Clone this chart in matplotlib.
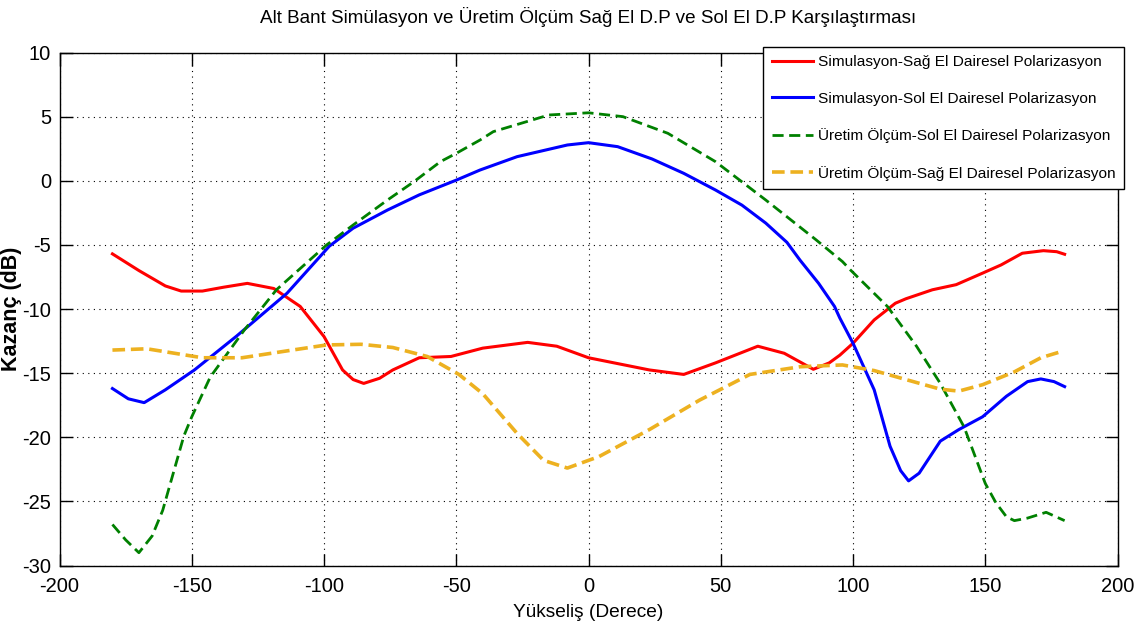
import matplotlib.pyplot as plt

plt.rcParams['font.family'] = ['Liberation Sans', 'DejaVu Sans']
plt.rcParams['axes.unicode_minus'] = False

# Simulasyon - Sag El D.P (red)
sim_sag_x = [-180, -170, -160, -154, -146, -138, -129, -119, -109, -100, -93, -89, -85, -79, -74,
             -64, -52, -40, -23, -12, 0, 23, 36, 48, 64, 74, 85, 91, 95, 100, 108, 116, 120, 130,
             139, 149, 156, 164, 172, 177, 180]
sim_sag_y = [-5.7, -7.0, -8.2, -8.6, -8.6, -8.3, -8.0, -8.4, -9.8, -12.15, -14.75, -15.5, -15.8,
             -15.4, -14.75, -13.8, -13.7, -13.05, -12.6, -12.9, -13.8, -14.75, -15.1, -14.2,
             -12.9, -13.45, -14.7, -14.2, -13.6, -12.67, -10.85, -9.55, -9.2, -8.5, -8.1, -7.2,
             -6.56, -5.65, -5.45, -5.53, -5.73]

# Simulasyon - Sol El D.P (blue)
sim_sol_x = [-180, -174, -168, -160, -149, -133, -114, -98, -89, -76, -64, -50, -41, -27, -8, 0,
             11, 24, 36, 48, 58, 67, 75, 80, 87, 93, 95, 100, 108, 114, 118, 121, 125, 133, 140,
             149, 158, 166, 171, 176, 180]
sim_sol_y = [-16.2, -17.0, -17.3, -16.3, -14.75, -12.1, -8.77, -5.1, -3.7, -2.28, -1.1, 0.05,
             0.84, 1.88, 2.79, 2.97, 2.66, 1.7, 0.58, -0.72, -1.9, -3.3, -4.8, -6.2, -8.0, -9.8,
             -10.7, -12.67, -16.3, -20.7, -22.6, -23.4, -22.8, -20.3, -19.4, -18.4, -16.8,
             -15.66, -15.45, -15.66, -16.05]

# Uretim Olcum - Sol El D.P (green dashed)
olc_sol_x = [-180, -175, -170, -165, -161, -157, -153, -150, -143, -130, -118, -99, -89, -76, -66,
             -56, -50, -41, -36, -15, 0, 13, 30, 48, 67, 86, 96, 99, 113, 124, 133, 142, 150,
             154, 158, 161, 166, 173, 180]
olc_sol_y = [-26.8, -28.0, -29.0, -27.7, -25.7, -22.8, -19.9, -18.4, -15.3, -11.6, -8.5, -5.0,
             -3.45, -1.5, -0.07, 1.49, 2.14, 3.18, 3.83, 5.13, 5.3, 5.0, 3.7, 1.49, -1.5, -4.6,
             -6.3, -6.95, -9.8, -12.9, -15.8, -19.2, -23.6, -25.1, -26.2, -26.5, -26.3, -25.85,
             -26.5]

# Uretim Olcum - Sag El D.P (orange dashed)
olc_sag_x = [-180, -167, -146, -131, -112, -99, -86, -74, -61, -49, -40, -27, -17, -8, 4, 23, 42,
             61, 80, 96, 108, 120, 133, 140, 149, 161, 171, 179]
olc_sag_y = [-13.2, -13.1, -13.8, -13.8, -13.2, -12.8, -12.75, -13.0, -13.7, -15.1, -16.6, -19.7,
             -21.8, -22.4, -21.5, -19.4, -17.1, -15.1, -14.5, -14.36, -14.8, -15.5, -16.25, -16.4,
             -15.9, -14.9, -13.8, -13.3]

labels = ['Simulasyon-Sağ El Dairesel Polarizasyon',
          'Simulasyon-Sol El Dairesel Polarizasyon',
          'Üretim Ölçüm-Sol El Dairesel Polarizasyon',
          'Üretim Ölçüm-Sağ El Dairesel Polarizasyon']

fig = plt.figure(figsize=(11.45, 6.35), dpi=100)
ax = fig.add_axes([0.052, 0.1094, 0.924, 0.8079])

ax.plot(sim_sag_x, sim_sag_y, color='#FF0000', lw=2.2, label=labels[0])
ax.plot(sim_sol_x, sim_sol_y, color='#0000FF', lw=2.2, label=labels[1])
ax.plot(olc_sol_x, olc_sol_y, color='#008000', lw=2.0, ls=(0, (4, 2)), label=labels[2])
ax.plot(olc_sag_x, olc_sag_y, color='#EDB120', lw=2.6, ls=(0, (3.5, 1.6)), label=labels[3])

ax.set_xlim(-200, 200)
ax.set_ylim(-30, 10)
ax.set_xticks(range(-200, 201, 50))
ax.set_yticks(range(-30, 11, 5))
ax.tick_params(direction='in', length=9, width=1, top=True, right=True,
               labelsize=14.5)
ax.tick_params(axis='x', pad=8)
ax.tick_params(axis='y', pad=6)
ax.grid(True, color='black', linestyle=(0, (1, 4)), linewidth=0.8)
for s in ax.spines.values():
    s.set_linewidth(1.0)

ax.set_title('Alt Bant Simülasyon ve Üretim Ölçüm Sağ El D.P ve Sol El D.P Karşılaştırması',
             fontsize=13.6, pad=21)
ax.set_xlabel('Yükseliş (Derece)', fontsize=13.8, labelpad=6)
ax.set_ylabel('Kazanç (dB)', fontsize=15.5, fontweight='bold')
ax.yaxis.set_label_coords(-0.0354, 0.5)

leg = ax.legend(loc='upper right', bbox_to_anchor=(1124 / 1145, 1 - 47 / 635),
                bbox_transform=fig.transFigure, fontsize=11.1, labelspacing=1.45,
                handlelength=2.7, handletextpad=0.3, borderpad=0.55, borderaxespad=0,
                fancybox=False, framealpha=1, edgecolor='black')
leg.get_frame().set_linewidth(1.0)

fig.savefig('out.png', dpi=100)
